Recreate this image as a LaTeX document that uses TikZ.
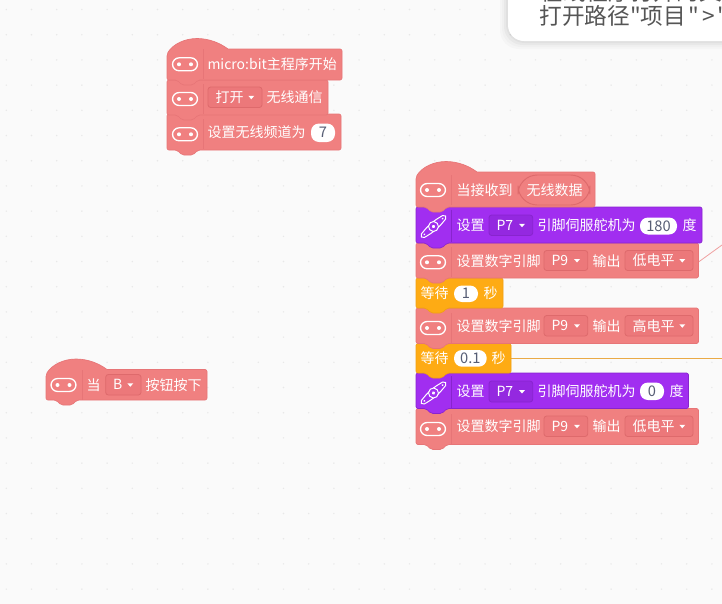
\documentclass[tikz,border=0pt]{standalone}
\usepackage{fontspec}
\newfontfamily\cjk{Noto Sans CJK SC}
\definecolor{pagebg}{RGB}{250,250,250}
\definecolor{griddot}{RGB}{232,232,232}
\definecolor{pinkblock}{RGB}{240,128,128}
\definecolor{pinkedge}{RGB}{231,117,119}
\definecolor{pinkfield}{RGB}{236,120,122}
\definecolor{pinkfieldedge}{RGB}{222,106,108}
\definecolor{purpleblock}{RGB}{161,46,240}
\definecolor{purpleedge}{RGB}{136,36,206}
\definecolor{purplefield}{RGB}{148,40,224}
\definecolor{yellowblock}{RGB}{254,171,20}
\definecolor{yellowedge}{RGB}{240,160,18}
\definecolor{numtext}{RGB}{87,94,117}
\definecolor{tiptext}{RGB}{85,85,85}
\tikzset{every picture/.style={line width=0.75pt}}
\tikzset{
  pinkb/.style={fill=pinkblock,draw=pinkedge,line width=0.5pt},
  purpleb/.style={fill=purpleblock,draw=purpleedge,line width=0.5pt},
  yellowb/.style={fill=yellowblock,draw=yellowedge,line width=0.5pt},
  pinkf/.style={fill=pinkfield,draw=pinkfieldedge,line width=0.6pt},
  purplef/.style={fill=purplefield,draw=purpleedge,line width=0.6pt},
  lab/.style={anchor=west,inner sep=0pt,xshift=-0.75pt,text=white,font=\cjk\fontsize{10.5}{12}\selectfont},
  numlab/.style={anchor=center,inner sep=0pt,text=numtext,font=\cjk\fontsize{11}{12}\selectfont},
  tiptxt/.style={anchor=west,inner sep=0pt,text=tiptext,font=\cjk\fontsize{17}{18}\selectfont},
}
% block with a bump under it
\newcommand{\stackblock}[5]{\draw[#1,rounded corners=1.5] (#2,#3) -- (#4,#3) -- (#4,#5) -- (#2+31,#5) -- (#2+26,#5+5) -- (#2+15,#5+5) -- (#2+10,#5) -- (#2,#5) -- cycle;}
% block with a round hat on top
\newcommand{\hatblock}[5]{\draw[#1] (#2,#3+5) .. controls (#2+6,#3-5) and (#2+18,#3-10.5) .. (#2+30,#3-10.5) .. controls (#2+42,#3-10.5) and (#2+53,#3-6) .. (#2+61,#3) [rounded corners=1.5] -- (#4,#3) -- (#4,#5) -- (#2+31,#5) -- (#2+26,#5+5) -- (#2+15,#5+5) -- (#2+10,#5) -- (#2,#5) -- cycle;}
% round-cornered chip icon
\newcommand{\chipicon}[3]{\draw[white,line width=1pt,rounded corners=5] (#1-12.5,#2-6.5) rectangle (#1+12.5,#2+6.5);
\fill[white] (#1-6,#2) circle (2) (#1+6,#2) circle (2);
\draw[#3,line width=0.5pt] (#1+18.7,#2-15) -- (#1+18.7,#2+15);}
% servo horn icon
\newcommand{\servoicon}[2]{\begin{scope}[shift={(#1,#2)},rotate=-41]
\draw[white,line width=0.75pt,rounded corners=1.5] (-16,-2) -- (-5,-3.8) -- (5,-3.8) -- (16,-2) -- (16,2) -- (5,3.8) -- (-5,3.8) -- (-16,2) -- cycle;
\fill[purpleblock,draw=white,line width=0.75pt] (0,0) circle (5);
\fill[white] (0,0) circle (1.8) (-12,0) circle (1) (12,0) circle (1);
\end{scope}
\draw[purpleedge,line width=0.5pt] (#1+18.2,#2-17) -- (#1+18.2,#2+15);}
% drop down field: name, x0, y0, x1, y1, text, style
\newcommand{\dropfield}[7]{\draw[#7,rounded corners=2] (#2,#3) rectangle (#4,#5);
\node[lab] (#1) at (#2+8,#3/2+#5/2) {#6};
\fill[white] (#4-13.7,#3/2+#5/2-1.5) -- (#4-7.7,#3/2+#5/2-1.5) -- (#4-10.7,#3/2+#5/2+2) -- cycle;}
% white number pill: name, x0, y0, x1, y1, text
\newcommand{\numpill}[6]{\fill[white,rounded corners=6] (#2,#3) rectangle (#4,#5);
\node[numlab] (#1) at (#2/2+#4/2,#3/2+#5/2) {#6};}

\begin{document}
\begin{tikzpicture}[x=0.75pt,y=0.75pt,yscale=-1,xscale=1]
\useasboundingbox (0,0) rectangle (722,604);
\clip (0,0) rectangle (722,604);
\fill[pagebg] (0,0) rectangle (722,604);

%dots of the work area
\foreach \i in {0,...,28}
  \foreach \j in {0,...,23}
    \fill[griddot] (6.3+25.2*\i,9.5+25.2*\j) circle (0.8);

%tip box at the top
\foreach \g/\o in {8/0.02,6/0.02,4/0.03,2/0.03}
  \fill[black,opacity=\o,rounded corners=14] (508-\g,-30) rectangle (760,41+\g);
\fill[white,rounded corners=12] (508,-30) rectangle (760,41);
\node[tiptxt] (tipa) at (540,-8) {在线程序打开的文件};
\node[tiptxt] (tipb) at (539,16) {打开路径"项目\hspace{2pt}"\hspace{2pt}>\hspace{2pt}"\hspace{1pt}新};

%wires going off to the right
\coordinate (wirepink) at (722,245);
\coordinate (wireorange) at (722,358);
\coordinate (pinsource) at (698.5,262);
\coordinate (waitsource) at (511,358);
\draw[color={rgb, 255:red, 240; green, 160; blue, 160 },line width=0.6pt] (pinsource) -- (wirepink);
\draw[color={rgb, 255:red, 234; green, 170; blue, 70 },line width=0.7pt] (waitsource) -- (wireorange);

%Stack: program start
\stackblock{pinkb}{167}{114}{341}{150}
\stackblock{pinkb}{167}{80}{328}{115}
\hatblock{pinkb}{167}{49}{342}{80}
\chipicon{185}{64.3}{pinkedge}
\chipicon{185}{99}{pinkedge}
\chipicon{185}{134.3}{pinkedge}
\node[lab] (startlab) at (208,64) {micro:bit主程序开始};
\dropfield{radioon}{208}{87}{262}{107.5}{打开}{pinkf}
\node[lab] (radiolab) at (267,97.5) {无线通信};
\node[lab] (channellab) at (208,132) {设置无线频道为};
\numpill{channelnum}{311}{123.5}{335}{142}{7}

%Stack: button
\hatblock{pinkb}{46}{369.5}{207}{400}
\chipicon{63.5}{385}{pinkedge}
\node[lab] (whenlab) at (87,385) {当};
\dropfield{buttonb}{105.7}{374.5}{141}{395}{B}{pinkf}
\node[lab] (presslab) at (146,385) {按钮按下};

%Stack: radio received
\stackblock{pinkb}{416}{408.5}{698.5}{444.5}
\stackblock{purpleb}{416}{373}{688.5}{408.5}
\stackblock{yellowb}{416}{343.5}{511}{373}
\stackblock{pinkb}{416}{308}{698.5}{343.5}
\stackblock{yellowb}{416}{278}{503}{308}
\stackblock{pinkb}{416}{243}{698.5}{278}
\stackblock{purpleb}{416}{207}{702}{243}
\hatblock{pinkb}{416}{172}{595}{207}

\chipicon{433}{190}{pinkedge}
\node[lab] (recvlab) at (457,190) {当接收到};
\draw[pinkfieldedge,line width=0.7pt,rounded corners=14.5] (518,175) rectangle (590,205);
\node[lab] (recvdata) at (527,190) {无线数据};

\servoicon{433.5}{226.5}
\node[lab] (servoa) at (457,225) {设置};
\dropfield{servopina}{489}{215}{532.7}{235.5}{P7}{purplef}
\node[lab] (servob) at (538,225) {引脚伺服舵机为};
\numpill{anglea}{640}{217.5}{677}{234.5}{180}
\node[lab] (servoc) at (683,225) {度};

\chipicon{433}{262.3}{pinkedge}
\node[lab] (pinaa) at (457,261) {设置数字引脚};
\dropfield{pinap}{544}{250.5}{587.7}{270.5}{P9}{pinkf}
\node[lab] (pinab) at (593,261) {输出};
\dropfield{pinav}{625}{250.5}{693}{270.5}{低电平}{pinkf}

\node[lab] (waita) at (421,293.5) {等待};
\numpill{waitnuma}{454}{285.5}{478}{302}{1}
\node[lab] (waitaa) at (484,293.5) {秒};

\chipicon{433}{328}{pinkedge}
\node[lab] (pinba) at (457,326) {设置数字引脚};
\dropfield{pinbp}{544}{315.5}{587.7}{336}{P9}{pinkf}
\node[lab] (pinbb) at (593,326) {输出};
\dropfield{pinbv}{625}{315.5}{693}{336}{高电平}{pinkf}

\node[lab] (waitb) at (421,358.5) {等待};
\numpill{waitnumb}{454}{350}{486.7}{366.7}{0.1}
\node[lab] (waitbb) at (492,358.5) {秒};

\servoicon{433.5}{393}
\node[lab] (servod) at (457,391) {设置};
\dropfield{servopinb}{489}{381}{532.7}{402}{P7}{purplef}
\node[lab] (servoe) at (538,391) {引脚伺服舵机为};
\numpill{angleb}{640}{382.5}{664}{400}{0}
\node[lab] (servof) at (670,391) {度};

\chipicon{433}{429}{pinkedge}
\node[lab] (pinca) at (457,426) {设置数字引脚};
\dropfield{pincp}{544}{416}{587.7}{436.5}{P9}{pinkf}
\node[lab] (pincb) at (593,426) {输出};
\dropfield{pincv}{625}{416}{693}{436.5}{低电平}{pinkf}

\end{tikzpicture}
\end{document}
